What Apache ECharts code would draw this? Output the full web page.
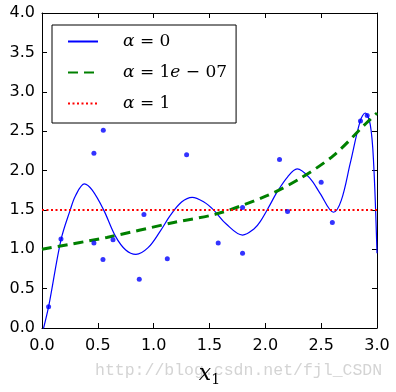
<!DOCTYPE html>
<html><head><meta charset="utf-8">
<script src="https://cdn.jsdelivr.net/npm/echarts@6/dist/echarts.min.js"></script>
<style>html,body{margin:0;padding:0;background:#fff}#c{width:396px;height:392px}</style>
</head><body><div id="c"></div>
<script>
// scatter sample points (x, y)
const dotX = [0.059,0.17,0.465,0.465,0.549,0.546,0.636,0.871,0.913,1.122,1.295,1.578,1.796,1.796,2.127,2.199,2.50,2.60,2.852,2.912];
const dotY = [0.27,1.13,1.08,2.22,2.51,0.87,1.12,0.62,1.44,0.88,2.20,1.08,1.53,0.95,2.14,1.48,1.85,1.34,2.63,2.70];
// alpha = 0 fitted curve
const fit0X = [0.0,0.059,0.17,0.253,0.30,0.38,0.45,0.552,0.656,0.75,0.841,0.95,1.059,1.149,1.25,1.345,1.45,1.536,1.65,1.796,1.90,1.954,2.044,2.098,2.20,2.285,2.40,2.49,2.61,2.68,2.76,2.85,2.894,2.94,2.97,3.0];
const fit0Y = [-0.08,0.27,1.12,1.50,1.68,1.83,1.75,1.50,1.17,0.99,0.935,1.02,1.23,1.43,1.60,1.66,1.60,1.50,1.32,1.18,1.26,1.35,1.57,1.71,1.92,2.02,1.90,1.71,1.47,1.62,2.09,2.63,2.73,2.58,2.09,0.95];
// alpha = 1e-07 curve
const fit1X = [0.0,0.58,1.18,1.567,2.014,2.313,2.61,2.91,3.0];
const fit1Y = [1.0,1.15,1.34,1.45,1.68,1.90,2.19,2.61,2.73];
// alpha = 1 curve
const fit2X = [0.0,3.0];
const fit2Y = [1.5,1.5];
const xTicks = [0,0.5,1,1.5,2,2.5,3];
const yTicks = [0,0.5,1,1.5,2,2.5,3,3.5,4];
const names = ['α=0','α=1e−07','α=1'];

const zip = (a,b)=>a.map((v,i)=>[v,b[i]]);
const chart = echarts.init(document.getElementById('c'));
const tickFont = {fontFamily:'DejaVu Sans',fontSize:16,color:'#000'};
const axLine = {show:true,onZero:false,lineStyle:{color:'#000',width:1}};
const axTick = {show:true,inside:true,length:5,lineStyle:{color:'#000'}};
const legendRich = {
  it:{fontFamily:'DejaVu Serif',fontStyle:'italic',fontSize:17,color:'#000'},
  n:{fontFamily:'DejaVu Serif',fontSize:17,color:'#000'}
};
function legendFmt(name){
  if(name===names[0]) return '{it|α}{n| = 0}';
  if(name===names[1]) return '{it|α}{n| = 1}{it|e}{n| − 07}';
  return '{it|α}{n| = 1}';
}
chart.setOption({
  animation:false,
  grid:{left:42,right:19,top:13,bottom:58},
  xAxis:[{type:'value',min:xTicks[0],max:xTicks[xTicks.length-1],interval:0.5,
    axisLine:axLine,axisTick:axTick,splitLine:{show:false},
    axisLabel:Object.assign({margin:10,formatter:v=>v.toFixed(1)},tickFont),
    name:'{x|x}{s|1}',nameLocation:'middle',nameGap:33,
    nameTextStyle:{rich:{x:{fontFamily:'DejaVu Serif',fontStyle:'italic',fontSize:22,color:'#000'},
      s:{fontFamily:'DejaVu Serif',fontSize:14,color:'#000',padding:[12,0,0,0]}}}},
    {type:'value',position:'top',min:0,max:3,interval:0.5,axisLine:axLine,axisTick:axTick,
    axisLabel:{show:false},splitLine:{show:false}}],
  yAxis:[{type:'value',min:yTicks[0],max:yTicks[yTicks.length-1],interval:0.5,
    axisLine:axLine,axisTick:axTick,splitLine:{show:false},
    axisLabel:Object.assign({margin:7,formatter:v=>v.toFixed(1)},tickFont)},
    {type:'value',position:'right',min:0,max:4,interval:0.5,axisLine:axLine,axisTick:axTick,
    axisLabel:{show:false},splitLine:{show:false}}],
  legend:{data:names,orient:'vertical',left:52,top:25,itemWidth:30,itemHeight:20,itemGap:14,
    padding:[8,9,11,15],borderColor:'#000',borderWidth:1,backgroundColor:'#fff',
    itemStyle:{color:'rgba(0,0,0,0)',borderWidth:0,opacity:0},
    formatter:legendFmt,textStyle:{rich:legendRich,padding:[0,0,0,20]}},
  series:[
    {type:'scatter',data:zip(dotX,dotY),symbolSize:5,itemStyle:{color:'#0000ff'},z:3},
    {type:'line',name:names[0],data:zip(fit0X,fit0Y),smooth:0.35,symbol:'none',clip:true,
      lineStyle:{color:'#0000ff',width:1.2},itemStyle:{color:'#0000ff'}},
    {type:'line',name:names[1],data:zip(fit1X,fit1Y),smooth:0.3,symbol:'none',
      lineStyle:{color:'#008000',width:3,type:[10,6]},itemStyle:{color:'#008000'}},
    {type:'line',name:names[2],data:zip(fit2X,fit2Y),symbol:'none',xAxisIndex:1,yAxisIndex:1,
      lineStyle:{color:'#ff0000',width:2,type:[2,2.5]},itemStyle:{color:'#ff0000'}}
  ],
  graphic:[{type:'text',left:95,top:362,style:{text:'http://blog.csdn.net/fjl_CSDN',
    fontFamily:'Liberation Mono',fontSize:16.5,fill:'#d4d4d4'},z:-1}]
});
</script></body></html>
